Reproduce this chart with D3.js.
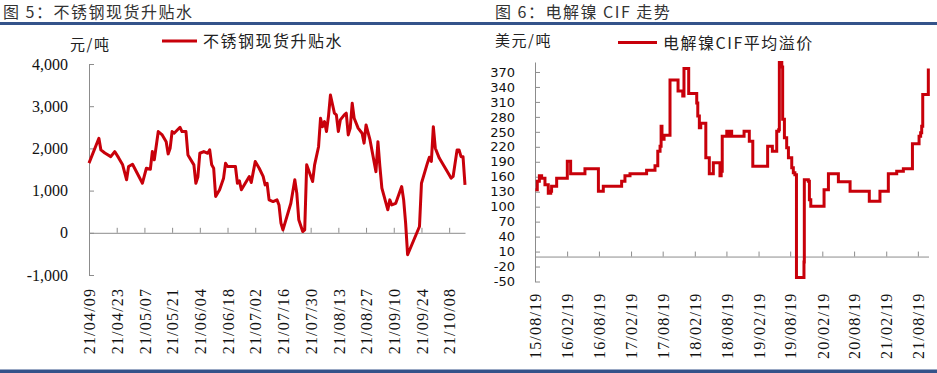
<!DOCTYPE html>
<html>
<head>
<meta charset="utf-8">
<script src="https://cdn.jsdelivr.net/npm/d3@7"></script>
<style>
    body { margin: 0; background: #fff; }
    svg { display: block; }
</style>
</head>
<body>
<svg id="chart" width="937" height="373"></svg>
<script>
// ---- 图5 data: 不锈钢现货升贴水 (元/吨)
const spotDates = [
    "21/04/09","21/04/14","21/04/15","21/04/17","21/04/20","21/04/22","21/04/24","21/04/26","21/04/28","21/04/29",
    "21/05/01","21/05/06","21/05/08","21/05/10","21/05/11","21/05/12","21/05/14","21/05/16","21/05/18","21/05/19",
    "21/05/20","21/05/21","21/05/22","21/05/25","21/05/26","21/05/28","21/05/29","21/06/01","21/06/02","21/06/03",
    "21/06/04","21/06/06","21/06/08","21/06/09","21/06/10","21/06/11","21/06/12","21/06/14","21/06/16","21/06/17",
    "21/06/18","21/06/22","21/06/23","21/06/24","21/06/25","21/06/29","21/06/30","21/07/02","21/07/04","21/07/06",
    "21/07/07","21/07/08","21/07/09","21/07/11","21/07/13","21/07/14","21/07/15","21/07/16","21/07/20","21/07/22",
    "21/07/23","21/07/24","21/07/26","21/07/27","21/07/28","21/07/31","21/08/01","21/08/03","21/08/04","21/08/05",
    "21/08/06","21/08/07","21/08/08","21/08/09","21/08/11","21/08/12","21/08/13","21/08/14","21/08/16","21/08/17",
    "21/08/18","21/08/19","21/08/20","21/08/21","21/08/23","21/08/25","21/08/26","21/08/27","21/08/29","21/09/01",
    "21/09/02","21/09/03","21/09/04","21/09/07","21/09/08","21/09/09","21/09/11","21/09/14","21/09/15","21/09/16",
    "21/09/17","21/09/23","21/09/24","21/09/27","21/09/28","21/09/29","21/09/30","21/10/01","21/10/03","21/10/08",
    "21/10/09","21/10/10","21/10/12","21/10/13","21/10/14","21/10/15","21/10/16"
];
const spotValues = [
    1650, 2240, 1965, 1890, 1805, 1925, 1775, 1610, 1255, 1570,
    1625, 1175, 1530, 1505, 1925, 1730, 2400, 2320, 2160, 1870,
    2005, 2400, 2360, 2500, 2400, 2400, 1845, 1610, 1175, 1320,
    1885, 1925, 1885, 1965, 1610, 1530, 860, 1020, 1295, 1650,
    1570, 1570, 1175, 1230, 1020, 1335, 1190, 1690, 1530, 1335,
    1135, 1175, 780, 740, 780, 660, 230, 70, 700, 1255,
    940, 310, 30, 70, 1610, 1215, 1610, 2040, 2715, 2515,
    2635, 2400, 2755, 3265, 2835, 2795, 2400, 2675, 2795, 2835,
    2320, 2480, 3070, 2715, 2480, 2360, 2125, 2555, 2200, 1450,
    2160, 1570, 1060, 545, 780, 660, 700, 1095, 780, 230,
    -520, 150, 1175, 1650, 1790, 1690, 2515, 2005, 1770, 1375,
    1295, 1335, 1965, 1965, 1805, 1805, 1135
];
const spotTicks = ["21/04/09","21/04/23","21/05/07","21/05/21","21/06/04","21/06/18","21/07/02",
    "21/07/16","21/07/30","21/08/13","21/08/27","21/09/10","21/09/24","21/10/08"];
const spotYTicks = [-1000, 0, 1000, 2000, 3000, 4000];

// ---- 图6 data: 电解镍CIF平均溢价 (美元/吨), weekly steps
const cifDates = [
    "15/08/21","15/09/01","15/09/13","15/09/26","15/10/15","15/11/03","15/11/17","15/11/22","15/12/21","16/02/20",
    "16/03/10","16/05/31","16/08/16","16/09/13","16/12/27","17/01/15","17/02/13","17/05/19","17/07/06","17/07/22",
    "17/08/04","17/08/10","17/08/15","17/08/27","17/09/30","17/11/15","17/12/12","17/12/19","18/01/15","18/03/02",
    "18/03/08","18/03/17","18/03/25","18/04/23","18/05/13","18/06/05","18/07/13","18/07/20","18/07/26","18/08/21",
    "18/08/30","18/09/09","18/09/18","18/11/28","18/12/28","19/01/17","19/04/12","19/05/09","19/06/03","19/06/14",
    "19/06/18","19/07/02","19/07/07","19/07/17","19/07/30","19/08/09","19/08/28","19/09/06","19/09/15","19/09/24",
    "19/11/06","19/11/08","19/12/01","19/12/07","19/12/15","20/02/29","20/03/25","20/05/21","20/07/27","20/11/14",
    "21/01/14","21/03/03","21/04/20","21/05/28","21/07/19","21/08/26","21/09/04","21/09/10","21/09/16","21/10/18"
];
const cifValues = [
    134, 151, 162, 157, 144, 127, 131, 141, 157, 191,
    166, 176, 131, 141, 151, 162, 166, 173, 182, 211,
    221, 261, 235, 243, 354, 332, 322, 377, 327, 308,
    282, 258, 267, 198, 166, 188, 162, 171, 241, 251,
    241, 251, 241, 251, 231, 181, 221, 211, 251, 254,
    389, 380, 275, 238, 218, 198, 178, 168, 164, -42,
    -11, 154, 151, 114, 101, 134, 166, 150, 131, 111,
    131, 166, 171, 176, 226, 241, 248, 261, 325, 377
];
const cifTicks = ["15/08/19","16/02/19","16/08/19","17/02/19","17/08/19","18/02/19","18/08/19",
    "19/02/19","19/08/19","20/02/19","20/08/19","21/02/19","21/08/19"];
const cifYTicks = [-50, -20, 10, 40, 70, 100, 130, 160, 190, 220, 250, 280, 310, 340, 370];

const parse = d3.timeParse("%y/%m/%d");
const fmtDate = d3.timeFormat("%y/%m/%d");
const red = "#c8000a";
const axisColor = "#8c8c8c";
const cjk = "'Noto Sans CJK SC', sans-serif";
const serif = "'Liberation Serif', 'Times New Roman', serif";

const svg = d3.select("#chart");

// blue rules on top and bottom
svg.append("rect").attr("x", 0).attr("y", 22).attr("width", 937).attr("height", 3).attr("fill", "#34538a");
svg.append("rect").attr("x", 0).attr("y", 369.5).attr("width", 937).attr("height", 3.5).attr("fill", "#34538a");

// header: title, unit and legend of each figure
function header(o) {
    svg.append("text").attr("x", o.titleX).attr("y", 17.5)
        .style("font-family", cjk).style("font-size", "16px").style("letter-spacing", "1.5px")
        .attr("fill", "#333").text(o.title);
    svg.append("text").attr("x", o.unitX).attr("y", o.unitY)
        .style("font-family", cjk).style("font-size", "15px").style("letter-spacing", "1.5px")
        .attr("fill", "#222").text(o.unit);
    svg.append("line")
        .attr("x1", o.legX).attr("x2", o.legX + o.legW)
        .attr("y1", o.legY).attr("y2", o.legY)
        .attr("stroke", red).attr("stroke-width", 3);
    svg.append("text").attr("x", o.legX + o.legW + 6).attr("y", o.legY + 6)
        .style("font-family", cjk).style("font-size", "16px").style("letter-spacing", "1.5px")
        .attr("fill", "#222").text(o.legend);
}

// style an axis group the same way for both figures
function styleAxis(g) {
    g.select(".domain").attr("stroke", axisColor);
    g.selectAll(".tick line").attr("stroke", axisColor);
    g.selectAll(".tick text").attr("fill", "#111");
}

// rotated date labels under the x axis
function rotateLabels(g, offset) {
    g.selectAll(".tick text")
        .attr("transform", "rotate(-90)")
        .attr("text-anchor", "end")
        .attr("x", -offset)
        .attr("y", 0)
        .attr("dy", "0.36em")
        .style("font-family", serif)
        .style("font-size", "16px")
        .style("letter-spacing", "1.2px");
}

// ================= 图5 =================
header({
    title: "图 5：不锈钢现货升贴水", titleX: 3,
    unit: "元/吨", unitX: 70, unitY: 50,
    legend: "不锈钢现货升贴水", legX: 162, legW: 35, legY: 41
});

const x1 = d3.scaleTime()
    .domain([parse("21/04/09"), parse("21/10/16")])
    .range([89, 465]);
const y1 = d3.scaleLinear()
    .domain([-1000, 4000])
    .range([275, 64]);

const yAxis1 = svg.append("g")
    .attr("transform", "translate(89,0)")
    .call(d3.axisLeft(y1).tickValues(spotYTicks)
        .tickFormat(d => d3.format(",")(d).replace("\u2212", "-"))
        .tickSizeInner(-5).tickSizeOuter(0).tickPadding(21));
yAxis1.selectAll(".tick text").style("font-family", serif).style("font-size", "16px");
styleAxis(yAxis1);

const xAxis1 = svg.append("g")
    .attr("transform", `translate(0,${y1(0)})`)
    .call(d3.axisBottom(x1).tickValues(spotTicks.map(parse))
        .tickFormat(fmtDate).tickSizeInner(-5).tickSizeOuter(0));
rotateLabels(xAxis1, 55);
styleAxis(xAxis1);

const spotData = spotDates.map((d, i) => ({ date: parse(d), value: spotValues[i] }));
svg.append("path")
    .datum(spotData)
    .attr("fill", "none")
    .attr("stroke", red)
    .attr("stroke-width", 3)
    .attr("stroke-linejoin", "round")
    .attr("d", d3.line().x(d => x1(d.date)).y(d => y1(d.value)));

// ================= 图6 =================
header({
    title: "图 6：电解镍 CIF 走势", titleX: 495,
    unit: "美元/吨", unitX: 495, unitY: 45.5,
    legend: "电解镍CIF平均溢价", legX: 618, legW: 39, legY: 42.5
});

const x2 = d3.scaleTime()
    .domain([parse("15/08/19"), parse("21/10/19")])
    .range([535, 928.5]);
const y2 = d3.scaleLinear()
    .domain([-50, 390])
    .range([281.5, 62]);

const yAxis2 = svg.append("g")
    .attr("transform", "translate(535,0)")
    .call(d3.axisLeft(y2).tickValues(cifYTicks)
        .tickFormat(d => String(d))
        .tickSizeInner(-5).tickSizeOuter(0).tickPadding(20));
yAxis2.selectAll(".tick text").style("font-family", "'DejaVu Sans', sans-serif").style("font-size", "13px");
styleAxis(yAxis2);

const xAxis2 = svg.append("g")
    .attr("transform", `translate(0,${y2(0)})`)
    .call(d3.axisBottom(x2).tickValues(cifTicks.map(parse))
        .tickFormat(fmtDate).tickSizeInner(-5).tickSizeOuter(0));
rotateLabels(xAxis2, 36);
styleAxis(xAxis2);

const cifData = cifDates.map((d, i) => ({ date: parse(d), value: cifValues[i] }));
svg.append("path")
    .datum(cifData)
    .attr("fill", "none")
    .attr("stroke", red)
    .attr("stroke-width", 3)
    .attr("d", d3.line().curve(d3.curveStepAfter).x(d => x2(d.date)).y(d => y2(d.value)));
</script>
</body>
</html>
